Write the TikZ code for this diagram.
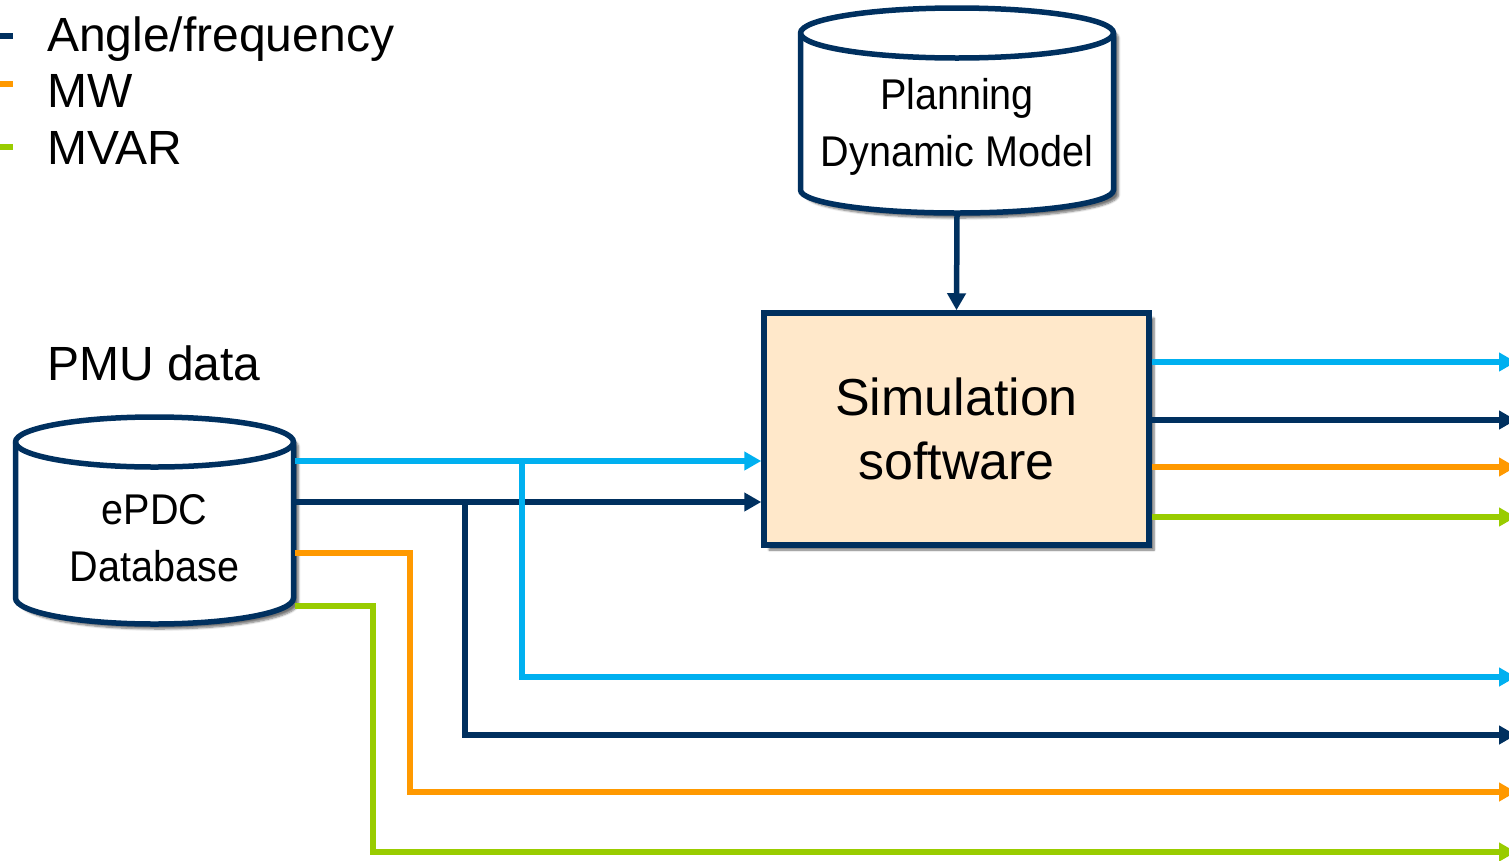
\documentclass[tikz,border=0pt]{standalone}
\usepackage{fontspec}
\setmainfont{Liberation Sans}
\newfontfamily\narrowfont[FakeStretch=0.92]{Liberation Sans}
\usetikzlibrary{arrows.meta,shadows.blur}
\definecolor{navy}{HTML}{00305F}
\definecolor{skyb}{HTML}{00B0F0}
\definecolor{orng}{HTML}{FF9900}
\definecolor{lgrn}{HTML}{99CC00}
\definecolor{peach}{HTML}{FFE8CA}
\tikzset{
  wire/.style={line width=5.5pt},
  arr/.style={wire,-{Triangle[length=17pt,width=18pt]}},
  softshadow/.style={blur shadow={shadow xshift=5pt,shadow yshift=-5pt,shadow blur steps=6,shadow opacity=55}},
  cylbody/.style={draw=navy,line width=5.5pt,fill=white,softshadow},
  cylrim/.style={draw=navy,line width=5.5pt},
  legtxt/.style={anchor=base west,inner sep=0pt,font=\fontsize{48}{58}\selectfont},
  legdash/.style={line width=5.5pt},
  dbtxt/.style={draw=none,align=center,inner sep=0pt,font=\narrowfont\fontsize{43}{57}\selectfont},
  simbox/.style={draw=navy,line width=5.5pt,fill=peach,align=center,softshadow,
    minimum width=385pt,minimum height=232pt,font=\fontsize{52}{64}\selectfont},
}
\begin{document}
\begin{tikzpicture}[x=1pt,y=-1pt]
\useasboundingbox (0,0) rectangle (1509,860);

% legend
\draw[legdash,navy] (0,36) -- (13,36);
\draw[legdash,orng] (0,84) -- (13,84);
\draw[legdash,lgrn] (0,147) -- (13,147);
\node[legtxt] (lg1) at (47,51) {Angle/frequency};
\node[legtxt] (lg2) at (47,107) {MW};
\node[legtxt] (lg3) at (47,164) {MVAR};
\node[legtxt] (pmu) at (47,380) {PMU data};

% Planning cylinder
\path[cylbody] (800.5,33) -- (800.5,190)
  arc[start angle=180,end angle=360,x radius=156.5pt,y radius=23pt]
  -- (1113.5,33)
  arc[start angle=0,end angle=180,x radius=156.5pt,y radius=25pt] -- cycle;
\draw[cylrim] (800.5,33) arc[start angle=180,end angle=360,x radius=156.5pt,y radius=25pt];
\node[dbtxt,minimum width=313pt,minimum height=174pt] (plan) at (957,127) {Planning\\Dynamic Model};

% ePDC cylinder
\path[cylbody] (15.5,442) -- (15.5,598)
  arc[start angle=180,end angle=360,x radius=139pt,y radius=26pt]
  -- (293.5,442)
  arc[start angle=0,end angle=180,x radius=139pt,y radius=25pt] -- cycle;
\draw[cylrim] (15.5,442) arc[start angle=180,end angle=360,x radius=139pt,y radius=25pt];
\node[dbtxt,minimum width=281pt,minimum height=170pt] (epdc) at (154.5,538) {ePDC\\Database};

% simulation box
\node[simbox] (sim) at (956.5,429) {Simulation\\software};

% coordinates for free ends
\coordinate (o1) at (1516,362);
\coordinate (o2) at (1516,420);
\coordinate (o3) at (1516,467);
\coordinate (o4) at (1516,517);
\coordinate (o5) at (1516,677);
\coordinate (o6) at (1516,735);
\coordinate (o7) at (1516,792);
\coordinate (o8) at (1516,852);

% planning -> sim
\draw[arr,navy] (plan.south) -- (sim.north);

% epdc -> sim
\draw[arr,skyb] (epdc.east |- 0,461) -- (sim.west |- 0,461);
\draw[arr,navy] (epdc.east |- 0,502) -- (sim.west |- 0,502);

% epdc branches
\draw[arr,skyb] (522,461) -- (522,677) -- (o5);
\draw[arr,navy] (465,502) -- (465,735) -- (o6);
\draw[arr,orng] (epdc.east |- 0,553) -- (410,553) -- (410,792) -- (o7);
\draw[arr,lgrn] (epdc.east |- 0,606) -- (373,606) -- (373,852) -- (o8);

% sim outputs
\draw[arr,skyb] (sim.east |- o1) -- (o1);
\draw[arr,navy] (sim.east |- o2) -- (o2);
\draw[arr,orng] (sim.east |- o3) -- (o3);
\draw[arr,lgrn] (sim.east |- o4) -- (o4);
\end{tikzpicture}
\end{document}
